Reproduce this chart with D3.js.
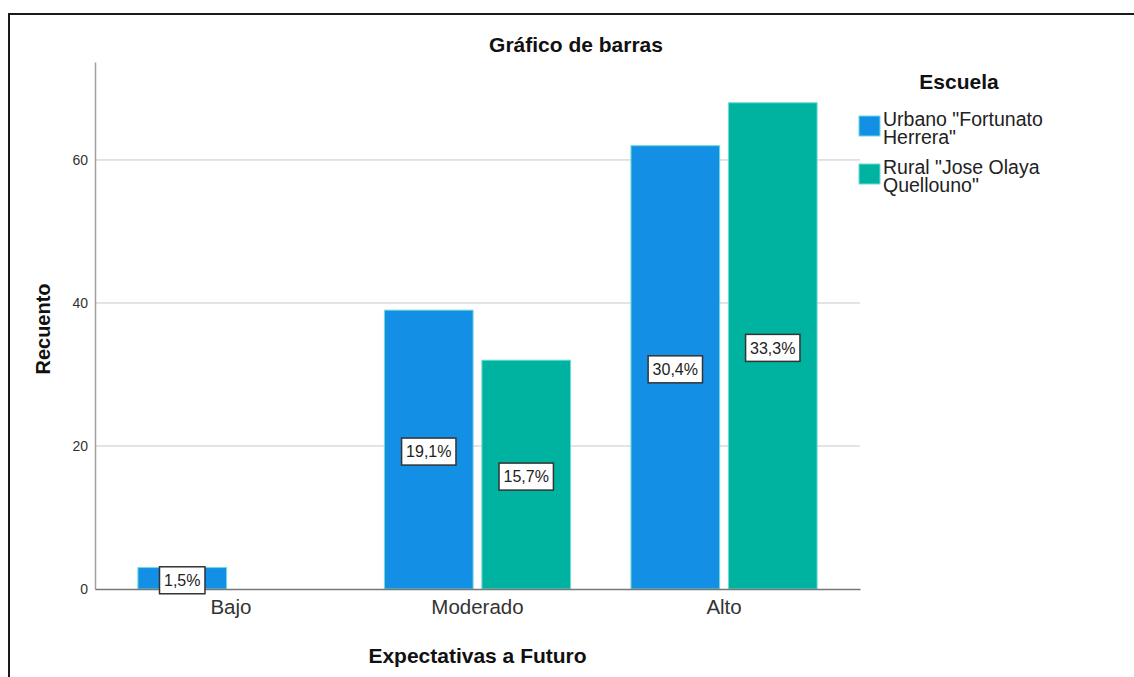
<!DOCTYPE html>
<html>
<head>
<meta charset="utf-8">
<script src="https://cdn.jsdelivr.net/npm/d3@7"></script>
<style>
  body { margin: 0; background: #fff; }
  svg { font-family: "Liberation Sans", Arial, sans-serif; }
</style>
</head>
<body>
<svg id="chart" width="1134" height="677"></svg>
<script>
// data
const categories = ["Bajo", "Moderado", "Alto"];
const seriesNames = ["Urbano \"Fortunato Herrera\"", "Rural \"Jose Olaya Quellouno\""];
const legendLines = [["Urbano \"Fortunato", "Herrera\""], ["Rural \"Jose Olaya", "Quellouno\""]];
const urbanoCounts = [3, 39, 62];
const ruralCounts = [0, 32, 68];
const urbanoPct = [1.5, 19.1, 30.4];
const ruralPct = [0, 15.7, 33.3];
const yTicks = [0, 20, 40, 60];
const colors = ["#1390e6", "#00b3a0"];

const svg = d3.select("#chart");

// outer frame
svg.append("rect")
  .attr("x", 9).attr("y", 14)
  .attr("width", 1200).attr("height", 700)
  .attr("fill", "none").attr("stroke", "#1a1a1a").attr("stroke-width", 2);

const plotL = 95, plotR = 860, plotT = 62, plotB = 589;

const y = d3.scaleLinear().domain([0, 73.7]).range([plotB, plotT]);
const x0 = d3.scaleBand().domain(categories).range([plotL, plotR])
  .paddingInner(0.245).paddingOuter(0.174);
const x1 = d3.scaleBand().domain(seriesNames).range([0, x0.bandwidth()])
  .paddingInner(0.09);

// gridlines
svg.append("g")
  .selectAll("line")
  .data(yTicks.filter(d => d > 0))
  .enter().append("line")
  .attr("x1", plotL).attr("x2", plotR)
  .attr("y1", d => y(d)).attr("y2", d => y(d))
  .attr("stroke", "#c8c8c8").attr("stroke-width", 1);

// y axis
const yAxis = svg.append("g")
  .attr("transform", `translate(${plotL},0)`)
  .call(d3.axisLeft(y).tickValues(yTicks).tickSize(0).tickPadding(7));
yAxis.select(".domain").attr("stroke", "#a0a0a0").attr("stroke-width", 1.5);
yAxis.selectAll("text").attr("font-size", 14).attr("fill", "#333")
  .attr("font-family", "Liberation Sans, Arial, sans-serif");

// bars
const rows = [];
categories.forEach((c, i) => {
  rows.push({ cat: c, s: seriesNames[0], v: urbanoCounts[i], p: urbanoPct[i], col: colors[0] });
  rows.push({ cat: c, s: seriesNames[1], v: ruralCounts[i], p: ruralPct[i], col: colors[1] });
});
const shown = rows.filter(d => d.v > 0);

svg.append("g")
  .selectAll("rect")
  .data(shown)
  .enter().append("rect")
  .attr("x", d => x0(d.cat) + x1(d.s))
  .attr("y", d => y(d.v))
  .attr("width", x1.bandwidth())
  .attr("height", d => y(0) - y(d.v))
  .attr("fill", d => d.col)
  .attr("stroke", "#6fdcd6").attr("stroke-width", 1);

// x axis baseline
const xAxis = svg.append("g")
  .attr("transform", `translate(0,${plotB})`)
  .call(d3.axisBottom(x0).tickSize(0).tickPadding(10));
xAxis.select(".domain").attr("stroke", "#777").attr("stroke-width", 1.5);
xAxis.selectAll("text").attr("font-size", 20.5).attr("fill", "#333")
  .attr("font-family", "Liberation Sans, Arial, sans-serif");

// percentage labels
const lab = svg.append("g").selectAll("g")
  .data(shown)
  .enter().append("g")
  .attr("transform", d => `translate(${x0(d.cat) + x1(d.s) + x1.bandwidth() / 2},${(y(d.v) + y(0)) / 2 + 2})`);
lab.append("text")
  .attr("text-anchor", "middle").attr("dy", "0.36em")
  .attr("font-size", 16).attr("fill", "#222")
  .text(d => d3.format(".1f")(d.p).replace(".", ",") + "%")
  .each(function () {
    const w = this.getComputedTextLength();
    d3.select(this.parentNode).insert("rect", "text")
      .attr("x", -w / 2 - 4.5).attr("y", -13.5)
      .attr("width", w + 9).attr("height", 27)
      .attr("fill", "#fff").attr("stroke", "#333").attr("stroke-width", 1.5);
  });

// titles
svg.append("text").attr("x", 576).attr("y", 52)
  .attr("text-anchor", "middle").attr("font-size", 21).attr("font-weight", "bold")
  .attr("fill", "#111").text("Gráfico de barras");
svg.append("text").attr("x", (plotL + plotR) / 2).attr("y", 663)
  .attr("text-anchor", "middle").attr("font-size", 21).attr("font-weight", "bold")
  .attr("fill", "#111").text("Expectativas a Futuro");
svg.append("text")
  .attr("transform", "translate(50,329) rotate(-90)")
  .attr("text-anchor", "middle").attr("font-size", 20).attr("font-weight", "bold")
  .attr("fill", "#111").text("Recuento");

// legend
svg.append("text").attr("x", 959).attr("y", 89)
  .attr("text-anchor", "middle").attr("font-size", 21).attr("font-weight", "bold")
  .attr("fill", "#111").text("Escuela");
const leg = svg.append("g").selectAll("g")
  .data(seriesNames)
  .enter().append("g")
  .attr("transform", (d, i) => `translate(859,${116 + i * 48})`);
leg.append("rect")
  .attr("width", 21).attr("height", 20)
  .attr("fill", (d, i) => colors[i])
  .attr("stroke", "#6fdcd6").attr("stroke-width", 1);
leg.append("text")
  .attr("x", 24).attr("y", 10)
  .attr("font-size", 19.5).attr("fill", "#222")
  .selectAll("tspan")
  .data((d, i) => legendLines[i])
  .enter().append("tspan")
  .attr("x", 24).attr("y", (d, j) => 10 + j * 18)
  .text(d => d);
</script>
</body>
</html>
